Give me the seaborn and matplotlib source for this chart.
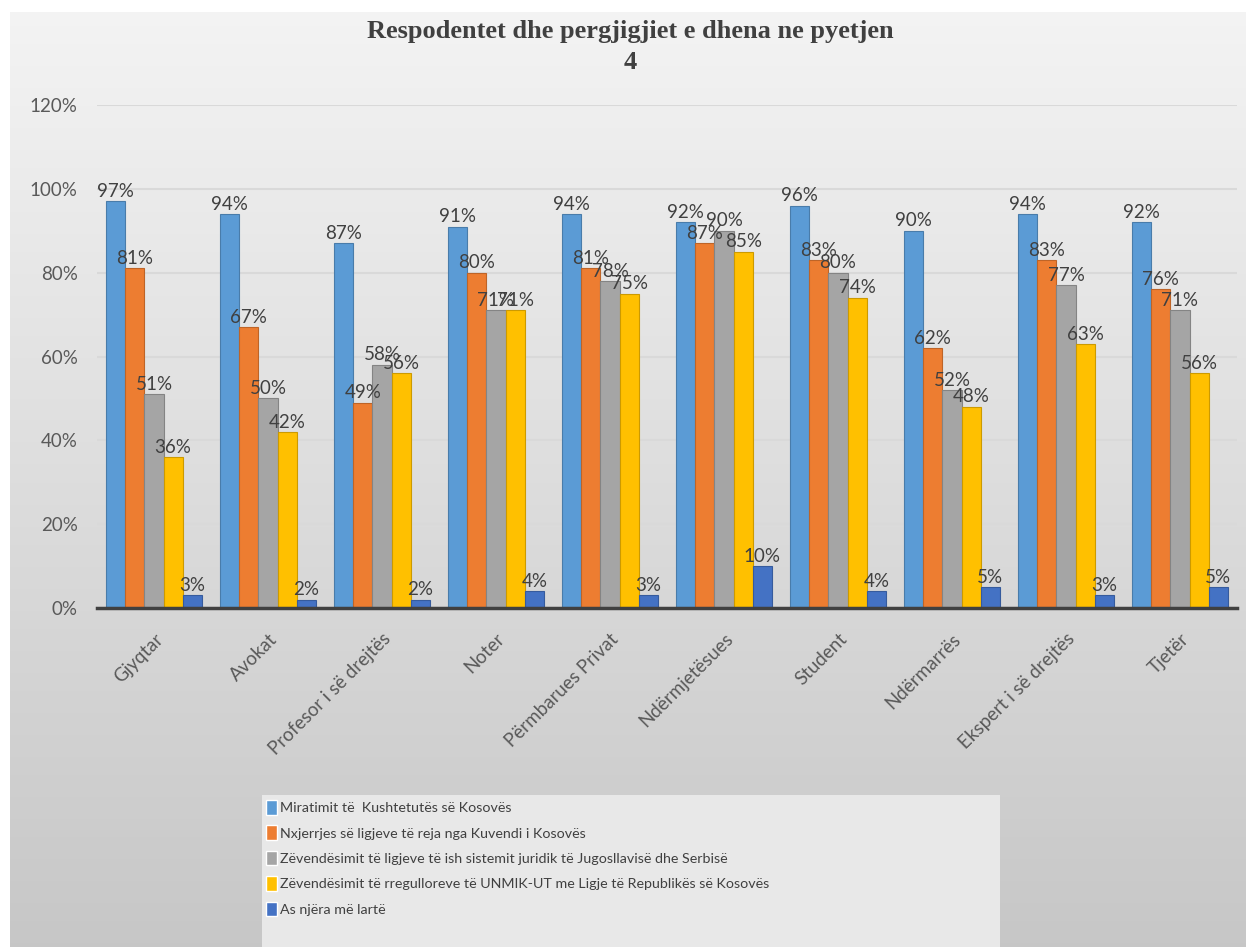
import numpy as np
import pandas as pd
import seaborn as sns
import matplotlib.pyplot as plt
from matplotlib.colors import to_rgb
from matplotlib.patches import Rectangle

categories = ["Gjyqtar", "Avokat", "Profesor i së drejtës", "Noter", "Përmbarues Privat",
              "Ndërmjetësues", "Student", "Ndërmarrës", "Ekspert i së drejtës", "Tjetër"]
series = ["Miratimit të  Kushtetutës së Kosovës",
          "Nxjerrjes së ligjeve të reja nga Kuvendi i Kosovës",
          "Zëvendësimit të ligjeve të ish sistemit juridik të Jugosllavisë dhe Serbisë",
          "Zëvendësimit të rregulloreve të UNMIK-UT me Ligje të Republikës së Kosovës",
          "As njëra më lartë"]
miratimit = [97, 94, 87, 91, 94, 92, 96, 90, 94, 92]
nxjerrjes = [81, 67, 49, 80, 81, 87, 83, 62, 83, 76]
zevendesimit_ligjeve = [51, 50, 58, 71, 78, 90, 80, 52, 77, 71]
zevendesimit_unmik = [36, 42, 56, 71, 75, 85, 74, 48, 63, 56]
as_njera = [3, 2, 2, 4, 3, 10, 4, 5, 3, 5]
colors = ["#5B9BD5", "#ED7D31", "#A5A5A5", "#FFC000", "#4472C4"]

values = [miratimit, nxjerrjes, zevendesimit_ligjeve, zevendesimit_unmik, as_njera]
df = pd.DataFrame({
    "kategoria": np.tile(categories, len(series)),
    "seria": np.repeat(series, len(categories)),
    "vlera": np.concatenate(values),
})

sns.set_theme(style="white")
plt.rcParams['font.family'] = ['Lato', 'DejaVu Sans']

W, H = 1246, 947
fig = plt.figure(figsize=(W / 100, H / 100), dpi=100, facecolor="white")

# gradient background
bg = fig.add_axes([10 / W, 0, 1 - 10 / W, 1 - 12 / H], zorder=-5)
grad = np.linspace(0.955, 0.78, 256).reshape(-1, 1)
bg.imshow(np.dstack([grad, grad, grad]), aspect="auto", extent=[0, 1, 0, 1])
bg.axis("off")

ax = fig.add_axes([97 / W, 1 - 608 / H, 1140 / W, 503 / H])
ax.set_facecolor("none")
sns.barplot(data=df, x="kategoria", y="vlera", hue="seria", palette=colors,
            saturation=1, width=0.84, gap=0, ax=ax, legend=True)

for cont, c in zip(ax.containers, colors):
    dark = tuple(v * 0.8 for v in to_rgb(c))
    for p in cont:
        p.set_edgecolor(dark)
        p.set_linewidth(0.8)
    ax.bar_label(cont, fmt="%d%%", padding=1, fontsize=13.5, color="#404040")

ax.set_ylim(0, 120)
ax.set_xlim(-0.5, 9.5)
ax.set_yticks(range(0, 121, 20))
ax.set_yticklabels([f"{v}%" for v in range(0, 121, 20)])
ax.yaxis.grid(True, color="#d9d9d9", linewidth=1.5)
ax.set_axisbelow(True)
ax.tick_params(axis="y", length=0, pad=14, labelsize=13.5, labelcolor="#595959")
ax.tick_params(axis="x", length=0, pad=16, labelsize=13.5, labelcolor="#595959")
for lab in ax.get_xticklabels():
    lab.set_rotation(45)
    lab.set_ha("right")
    lab.set_rotation_mode("anchor")
ax.set_xlabel("")
ax.set_ylabel("")
for s in ["top", "right", "left"]:
    ax.spines[s].set_visible(False)
ax.spines["bottom"].set_color("#404040")
ax.spines["bottom"].set_linewidth(2.5)

fig.text(630 / W, 1 - 20 / H, "Respodentet dhe pergjigjiet e dhena ne pyetjen\n4",
         ha="center", va="top", fontsize=19, fontweight="bold",
         family="Liberation Serif", color="#404040", linespacing=1.45)

# legend box
fig.patches.append(Rectangle((262 / W, 0), (1000 - 262) / W, (947 - 795) / H,
                             transform=fig.transFigure, facecolor="#e8e8e8",
                             edgecolor="none", zorder=0))
handles, labels = ax.get_legend_handles_labels()
ax.get_legend().remove()
leg = fig.legend(handles, labels, loc="upper left", bbox_to_anchor=(266 / W, 1 - 800 / H),
                 frameon=False, fontsize=10.3, labelcolor="#404040",
                 handlelength=0.8, handleheight=1.2, handletextpad=0.2,
                 labelspacing=0.75, borderaxespad=0, borderpad=0)

fig.savefig("out.png", dpi=100)
